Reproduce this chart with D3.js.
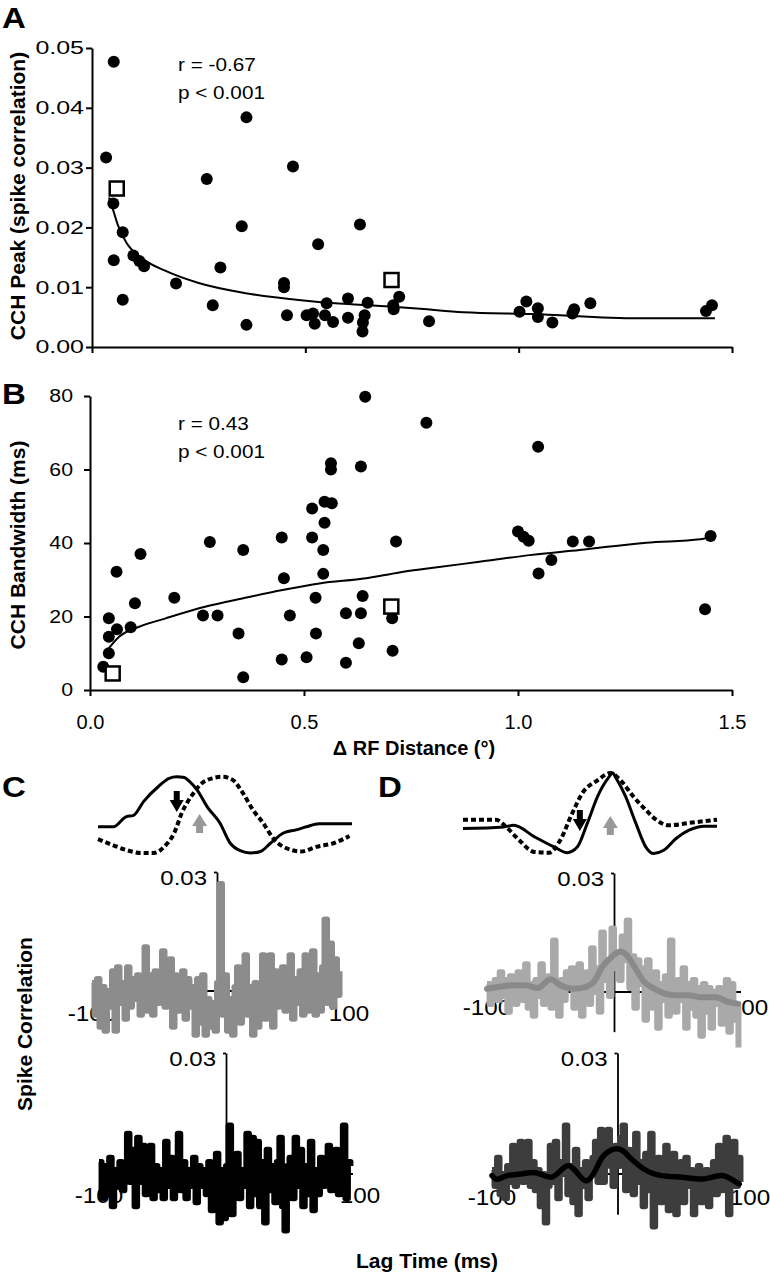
<!DOCTYPE html>
<html>
<head>
<meta charset="utf-8">
<script src="https://cdn.jsdelivr.net/npm/d3@7"></script>
<style>
  body { margin: 0; background: #fff; }
  svg { display: block; font-family: 'Liberation Sans', Arial, sans-serif; }
</style>
</head>
<body>
<svg width="770" height="1280"></svg>
<script>
// ---- Panel A: CCH peak vs RF distance ----
var peakDist = [0.051,0.033,0.050,0.051,0.072,0.072,0.097,0.111,0.122,0.197,
  0.269,0.283,0.301,0.351,0.362,0.362,0.471,0.450,0.450,0.457,
  0.530,0.503,0.518,0.522,0.550,0.546,0.565,0.600,0.600,0.628,
  0.639,0.635,0.634,0.646,0.706,0.720,0.707,0.790,1.018,1.002,
  1.045,1.045,1.079,1.130,1.126,1.168,1.453,1.439]
var peakVal = [0.0477,0.0317,0.0240,0.0145,0.0192,0.0079,0.0153,0.0144,0.0135,0.0106,
  0.0281,0.0070,0.0133,0.0202,0.0384,0.0037,0.0302,0.0107,0.0100,0.0053,
  0.0172,0.0053,0.0056,0.0039,0.0073,0.0053,0.0042,0.0081,0.0049,0.0205,
  0.0053,0.0041,0.0026,0.0074,0.0070,0.0084,0.0063,0.0043,0.0076,0.0059,
  0.0065,0.0050,0.0041,0.0063,0.0056,0.0073,0.0070,0.0060]
var peakSqDist = [0.058, 0.702]
var peakSqVal = [0.0265, 0.0112]
var peakFitDist = [0.04,0.05,0.06,0.08,0.12,0.17,0.25,0.36,0.49,0.57,0.65,0.77,0.87,1.03,1.28,1.46]
var peakFitVal = [0.0250,0.0228,0.0205,0.0175,0.0147,0.0128,0.0107,0.0090,0.0078,0.0073,0.0070,0.0064,0.0058,0.0055,0.0048,0.0048]
var peakTicks = [0, 0.01, 0.02, 0.03, 0.04, 0.05]

// ---- Panel B: CCH bandwidth vs RF distance ----
var bwDist = [0.643,0.633,0.563,0.563,0.519,0.548,0.565,0.548,0.448,0.519,
  0.545,0.280,0.358,0.118,0.062,0.453,0.545,0.197,0.105,0.527,
  0.637,0.044,0.063,0.095,0.264,0.298,0.467,0.598,0.633,0.044,
  0.044,0.347,0.528,0.628,0.448,0.506,0.598,0.031,0.358,0.706,
  0.707,0.715,0.786,1.047,1.000,1.013,1.025,1.128,1.166,1.078,
  1.048,1.450,1.437]
var bwVal = [79.8,60.8,61.7,60.0,49.4,51.2,50.8,45.5,41.5,41.5,
  38.1,40.3,38.1,37.0,32.2,30.4,31.6,25.1,23.6,25.1,
  25.6,19.5,16.5,17.1,20.3,20.3,20.3,20.9,20.9,14.5,
  10.0,15.4,15.4,12.7,8.3,8.9,7.4,6.3,3.5,19.5,
  10.7,40.4,72.7,66.2,43.1,41.7,40.6,40.4,40.4,35.4,
  31.7,41.9,22.0]
var bwSqDist = [0.704, 0.053]
var bwSqVal = [22.7, 4.5]
var bwFitDist = [0.038,0.068,0.115,0.177,0.271,0.356,0.45,0.536,0.645,0.723,0.793,0.91,1.027,1.144,1.3,1.426,1.45]
var bwFitVal = [10.5,14.5,17.2,19.5,22.7,24.9,27.2,29.0,30.4,32.0,33.1,34.9,36.7,38.1,40.1,41.0,41.7]
var bwTicks = [0, 20, 40, 60, 80]
var distTicks = [0, 0.5, 1.0, 1.5]

// ---- Panels C/D: RF profiles (normalised) ----
var waveCSolidT = [0,6,11,14,18,24,28,31,34,36,39,43,48,52,56,60,64,68,73,78,82,87,100]
var waveCSolidV = [0.34,0.34,0.47,0.49,0.67,0.87,0.97,0.99,0.98,0.93,0.82,0.60,0.39,0.13,0.03,0.0,0.02,0.13,0.26,0.30,0.34,0.38,0.38]
var waveCDashT = [0,6,11,17,22,26,30,33,37,41,45,49,53,57,61,65,69,73,80,86,93,99]
var waveCDashV = [0.18,0.10,0.04,0.0,0.0,0.08,0.26,0.52,0.75,0.91,0.97,0.99,0.95,0.78,0.56,0.39,0.19,0.08,0.02,0.08,0.13,0.22]
var waveDSolidT = [0,16,20,28,36,41,45,49,53,57,59,60,64,68,72,75,79,84,89,95,100]
var waveDSolidV = [0.31,0.33,0.35,0.21,0.08,0.01,0.08,0.38,0.71,0.93,1.0,0.95,0.71,0.38,0.08,0.0,0.04,0.19,0.29,0.34,0.34]
var waveDDashT = [0,13,17,22,28,34,38,43,47,53,58,62,67,72,76,81,89,100]
var waveDDashV = [0.42,0.42,0.33,0.17,0.02,0.01,0.15,0.50,0.75,0.91,1.0,0.91,0.71,0.54,0.42,0.35,0.38,0.42]
var arrowsC = [31, 40]
var arrowsD = [46, 58]

// ---- CCH traces, 2 ms bins, units of 0.001 ----
var lagBins = d3.range(-100, 100, 2)
var cchCGray = [2,-6,3,-9,1,-10,0,-4,5,-10, 6,-3,2,-7,6,-4,3,-2,4,-6,
  2,11,-5,4,-6,5,-3,2,10,-4, 3,8,-9,4,-5,2,5,-7,3,-4,
  1,-11,3,-8,4,-11,-2,-9,-3,-10, 2,27,-6,4,-10,-2,-11,1,6,-8,
  3,9,-6,1,-11,2,-9,0,9,-7, 3,9,-9,5,-4,1,6,-5,2,9,
  -7,3,-3,5,-6,9,-5,3,10,-6, 4,-5,6,18,-3,12,-4,8,-1,5]
var cchCBlack = [3,-6,2,-5,4,-8,1,-3,3,-4, 2,10,-2,6,-8,9,-2,7,-5,3,
  7,-6,2,-4,1,-6,8,-3,4,-6, 2,10,-4,3,-6,1,-3,4,-7,2,
  -3,1,-5,3,-9,2,5,-12,1,-11, 2,12,-10,2,5,-6,1,-3,10,-8,
  9,-5,8,-8,3,-12,6,-4,2,-7, 3,9,-8,-14,2,4,-6,9,-3,6,
  -8,2,-5,8,-9,1,-5,4,-3,1, 7,-4,2,6,-5,3,12,-6,3,2]
var cchDLight = [2,-3,1,3,-2,5,-1,3,-5,4, 1,-3,5,1,-2,7,-4,2,-6,3,
  -1,7,-3,2,4,-4,13,2,-6,3, -2,5,1,6,-4,3,7,-6,2,5,
  -3,11,0,6,-5,15,3,7,-1,16, 6,10,3,14,8,18,1,9,-4,8,
  2,6,-7,8,1,-4,5,-9,2,-2, 4,-6,13,-1,-5,3,-2,6,-9,2,
  -4,3,-6,1,-11,2,-5,1,-9,0, -3,1,-8,-2,3,-10,2,-7,-4,-14]
var cchDDark = [1,-3,4,-5,0,-6,2,-2,7,-3, 3,8,-2,2,8,-3,3,-4,1,-8,
  0,-12,-3,7,-2,8,-6,3,0,12, -5,2,-7,6,-10,1,-3,3,-6,1,
  4,8,-2,11,-2,3,11,2,-3,7, 2,9,12,-4,6,2,-5,10,-2,3,
  -8,5,-4,10,-13,1,4,-7,3,7, -9,-2,5,-10,-2,3,-7,4,-3,1,
  -10,-2,2,-7,0,1,-8,-1,3,-5, 7,-4,1,9,-10,2,8,-3,4,-2]
var smoothDLightLag = [-100,-90,-80,-70,-60,-50,-42,-32,-22,-16,-9,-3,5,10,16,24,32,40,48,58,68,80,90,98]
var smoothDLightVal = [0.8,1.3,1.7,1.7,1.0,3.2,1.7,0.8,1.3,2.5,6.4,8.5,10.2,9.3,6.4,2.5,0.8,-0.4,-0.8,-0.8,-1.3,-1.3,-2.5,-3.0]
var smoothDDarkLag = [-100,-96,-88,-77,-67,-53,-39,-35,-25,-21,-11,0,4,11,21,35,51,67,83,93,97]
var smoothDDarkVal = [-0.4,-1.3,-0.4,0,0.4,-0.8,2.1,1.25,-1.7,-0.8,4.6,6.25,5.8,3.75,1.25,-0.4,-0.8,-1.25,-0.4,-1.7,-2.5]

var svg = d3.select('svg')
svg.append('rect').attr('width', 770).attr('height', 1280).attr('fill', '#fff')

// text helper, the figure's lettering is a little wide so we stretch it
function label(g, x, y, str, size, opts) {
  opts = opts || {}
  return g.append('text')
    .attr('transform', 'translate(' + x + ',' + y + ') scale(' + (opts.sx || 1) + ',1)' + (opts.rotate ? ' rotate(-90)' : ''))
    .attr('text-anchor', opts.anchor || 'start')
    .style('font-size', size + 'px')
    .style('font-weight', opts.bold ? 'bold' : 'normal')
    .attr('fill', '#000')
    .text(str)
}

function styleAxis(g, sw) {
  g.selectAll('path, line').attr('stroke', '#000').attr('stroke-width', sw || 2)
}

// ---------------- Panel A ----------------
var xA = d3.scaleLinear().domain([0, 1.5]).range([92, 732])
var yA = d3.scaleLinear().domain([0, 0.05]).range([347, 48])

var gAy = svg.append('g').attr('transform', 'translate(92,0)')
  .call(d3.axisLeft(yA).tickValues(peakTicks).tickSize(6).tickSizeOuter(0).tickFormat(d3.format('.2f')))
styleAxis(gAy)
gAy.selectAll('text').style('font-size', '18.5px').attr('x', -8 / 1.35)
  .attr('transform', 'scale(1.35,1)').attr('fill', '#000')
var gAx = svg.append('g').attr('transform', 'translate(0,347)')
  .call(d3.axisBottom(xA).tickValues(distTicks).tickSize(6).tickSizeOuter(0).tickFormat(''))
styleAxis(gAx)

var lineA = d3.line().x(d => xA(d[0])).y(d => yA(d[1])).curve(d3.curveMonotoneX)
svg.append('path').datum(peakFitDist.map((d, i) => [d, peakFitVal[i]]))
  .attr('d', lineA).attr('fill', 'none').attr('stroke', '#000').attr('stroke-width', 2)

svg.append('g').selectAll('circle').data(peakDist).join('circle')
  .attr('cx', d => xA(d)).attr('cy', (d, i) => yA(peakVal[i])).attr('r', 6).attr('fill', '#000')
svg.append('g').selectAll('rect').data(peakSqDist).join('rect')
  .attr('x', d => xA(d) - 7).attr('y', (d, i) => yA(peakSqVal[i]) - 7)
  .attr('width', 14).attr('height', 14)
  .attr('fill', '#fff').attr('stroke', '#000').attr('stroke-width', 2.5)

label(svg, 178, 71, 'r = -0.67', 18.5, { sx: 1.12 })
label(svg, 178, 99, 'p < 0.001', 18.5, { sx: 1.12 })
label(svg, 2, 28, 'A', 30, { bold: true, sx: 1.1 })
label(svg, 25, 196, 'CCH Peak (spike correlation)', 21, { bold: true, anchor: 'middle', rotate: true })

// ---------------- Panel B ----------------
var xB = d3.scaleLinear().domain([0, 1.5]).range([90, 732])
var yB = d3.scaleLinear().domain([0, 80]).range([690, 396])

var gBy = svg.append('g').attr('transform', 'translate(90,0)')
  .call(d3.axisLeft(yB).tickValues(bwTicks).tickSize(6).tickSizeOuter(0))
styleAxis(gBy)
gBy.selectAll('text').style('font-size', '18.5px').attr('x', -17 / 1.15)
  .attr('transform', 'scale(1.15,1)').attr('fill', '#000')
var gBx = svg.append('g').attr('transform', 'translate(0,690)')
  .call(d3.axisBottom(xB).tickValues(distTicks).tickSize(6).tickSizeOuter(0)
    .tickPadding(19).tickFormat(d3.format('.1f')))
styleAxis(gBx)
gBx.selectAll('text').style('font-size', '20px').attr('fill', '#000')

var lineB = d3.line().x(d => xB(d[0])).y(d => yB(d[1])).curve(d3.curveMonotoneX)
svg.append('path').datum(bwFitDist.map((d, i) => [d, bwFitVal[i]]))
  .attr('d', lineB).attr('fill', 'none').attr('stroke', '#000').attr('stroke-width', 2)

svg.append('g').selectAll('circle').data(bwDist).join('circle')
  .attr('cx', d => xB(d)).attr('cy', (d, i) => yB(bwVal[i])).attr('r', 6).attr('fill', '#000')
svg.append('g').selectAll('rect').data(bwSqDist).join('rect')
  .attr('x', d => xB(d) - 7).attr('y', (d, i) => yB(bwSqVal[i]) - 7)
  .attr('width', 14).attr('height', 14)
  .attr('fill', '#fff').attr('stroke', '#000').attr('stroke-width', 2.5)

label(svg, 178, 430, 'r = 0.43', 18.5, { sx: 1.12 })
label(svg, 178, 458, 'p < 0.001', 18.5, { sx: 1.12 })
label(svg, 2, 404, 'B', 30, { bold: true, sx: 1.1 })
label(svg, 25, 545, 'CCH Bandwidth (ms)', 21, { bold: true, anchor: 'middle', rotate: true })
label(svg, 414, 755, '\u0394 RF Distance (\u00b0)', 20, { bold: true, anchor: 'middle' })

// ---------------- Panels C / D ----------------
label(svg, 2, 797, 'C', 30, { bold: true, sx: 1.1 })
label(svg, 378, 797, 'D', 30, { bold: true, sx: 1.1 })
label(svg, 32, 1024, 'Spike Correlation', 21, { bold: true, anchor: 'middle', rotate: true })
label(svg, 427, 1268, 'Lag Time (ms)', 21, { bold: true, anchor: 'middle' })

function drawWaves(xr, yr, solidT, solidV, dashT, dashV, arrows, arrowY) {
  var x = d3.scaleLinear().domain([0, 100]).range(xr)
  var y = d3.scaleLinear().domain([0, 1]).range(yr)
  var line = d3.line().x(d => x(d[0])).y(d => y(d[1])).curve(d3.curveMonotoneX)
  svg.append('path').datum(dashT.map((d, i) => [d, dashV[i]]))
    .attr('d', line).attr('fill', 'none').attr('stroke', '#000')
    .attr('stroke-width', 4).attr('stroke-dasharray', '5,3')
  svg.append('path').datum(solidT.map((d, i) => [d, solidV[i]]))
    .attr('d', line).attr('fill', 'none').attr('stroke', '#000').attr('stroke-width', 3)

  // black arrow points down, grey arrow points up
  var cx = x(arrows[0]), t = arrowY[0]
  svg.append('path')
    .attr('d', 'M' + (cx - 3) + ',' + t + 'h6v9h4l-7,12l-7,-12h4z')
    .attr('fill', '#000')
  cx = x(arrows[1]); t = arrowY[1]
  svg.append('path')
    .attr('d', 'M' + cx + ',' + t + 'l7.5,12h-4v7h-7v-7h-4z')
    .attr('fill', '#999')
}
drawWaves([98, 352], [853, 776], waveCSolidT, waveCSolidV, waveCDashT, waveCDashV, arrowsC, [791, 814])
drawWaves([463, 717], [853.5, 773], waveDSolidT, waveDSolidV, waveDDashT, waveDDashV, arrowsD, [810, 816])

var cchPanels = [
  { raw: cchCGray, rawColor: '#8c8c8c', x0: 92, x1: 342, y0: 991, yTop: 872, labelY: 1021 },
  { raw: cchCBlack, rawColor: '#000', x0: 99, x1: 353, y0: 1174, yTop: 1053, labelY: 1203 },
  { raw: cchDLight, rawColor: '#a9a9a9', x0: 487, x1: 741, y0: 992, yTop: 873, labelY: 1015,
    sLag: smoothDLightLag, sVal: smoothDLightVal, sColor: '#8a8a8a', sWidth: 6 },
  { raw: cchDDark, rawColor: '#3d3d3d', x0: 492, x1: 743, y0: 1174, yTop: 1053, labelY: 1205,
    sLag: smoothDDarkLag, sVal: smoothDDarkVal, sColor: '#000', sWidth: 5.5 }
]

cchPanels.forEach(p => {
  var x = d3.scaleLinear().domain([-100, 100]).range([p.x0, p.x1])
  var y = d3.scaleLinear().domain([-0.01, 0.03]).range([p.y0 + (p.y0 - p.yTop) / 3, p.yTop])
  var g = svg.append('g')

  label(g, p.x0, p.labelY, '-100', 22, { anchor: 'middle', sx: 1.1 })
  label(g, p.x1 + 7, p.labelY, '100', 22, { anchor: 'middle', sx: 1.1 })
  label(g, x(0) - 10, p.yTop + 13, '0.03', 20, { anchor: 'end', sx: 1.2 })

  g.append('line').attr('x1', p.x0).attr('x2', p.x1).attr('y1', y(0)).attr('y2', y(0))
    .attr('stroke', '#000').attr('stroke-width', 2)
  var gv = g.append('g').attr('transform', 'translate(' + x(0) + ',0)')
    .call(d3.axisLeft(y).tickValues([0.03]).tickSize(3).tickSizeOuter(0).tickFormat(''))
  styleAxis(gv, 1.8)

  var line = d3.line().x(d => x(d[0])).y(d => y(d[1] * 0.001))
  g.append('path').datum(lagBins.map((d, i) => [d, p.raw[i]]))
    .attr('d', line.curve(d3.curveStepAfter)).attr('fill', 'none')
    .attr('stroke', p.rawColor).attr('stroke-width', 6).attr('stroke-linejoin', 'round')
  if (p.sLag) {
    var sline = d3.line().x(d => x(d[0])).y(d => y(d[1] * 0.001)).curve(d3.curveMonotoneX)
    g.append('path').datum(p.sLag.map((d, i) => [d, p.sVal[i]]))
      .attr('d', sline).attr('fill', 'none').attr('stroke', p.sColor)
      .attr('stroke-width', p.sWidth).attr('stroke-linecap', 'round')
  }
})
</script>
</body>
</html>
